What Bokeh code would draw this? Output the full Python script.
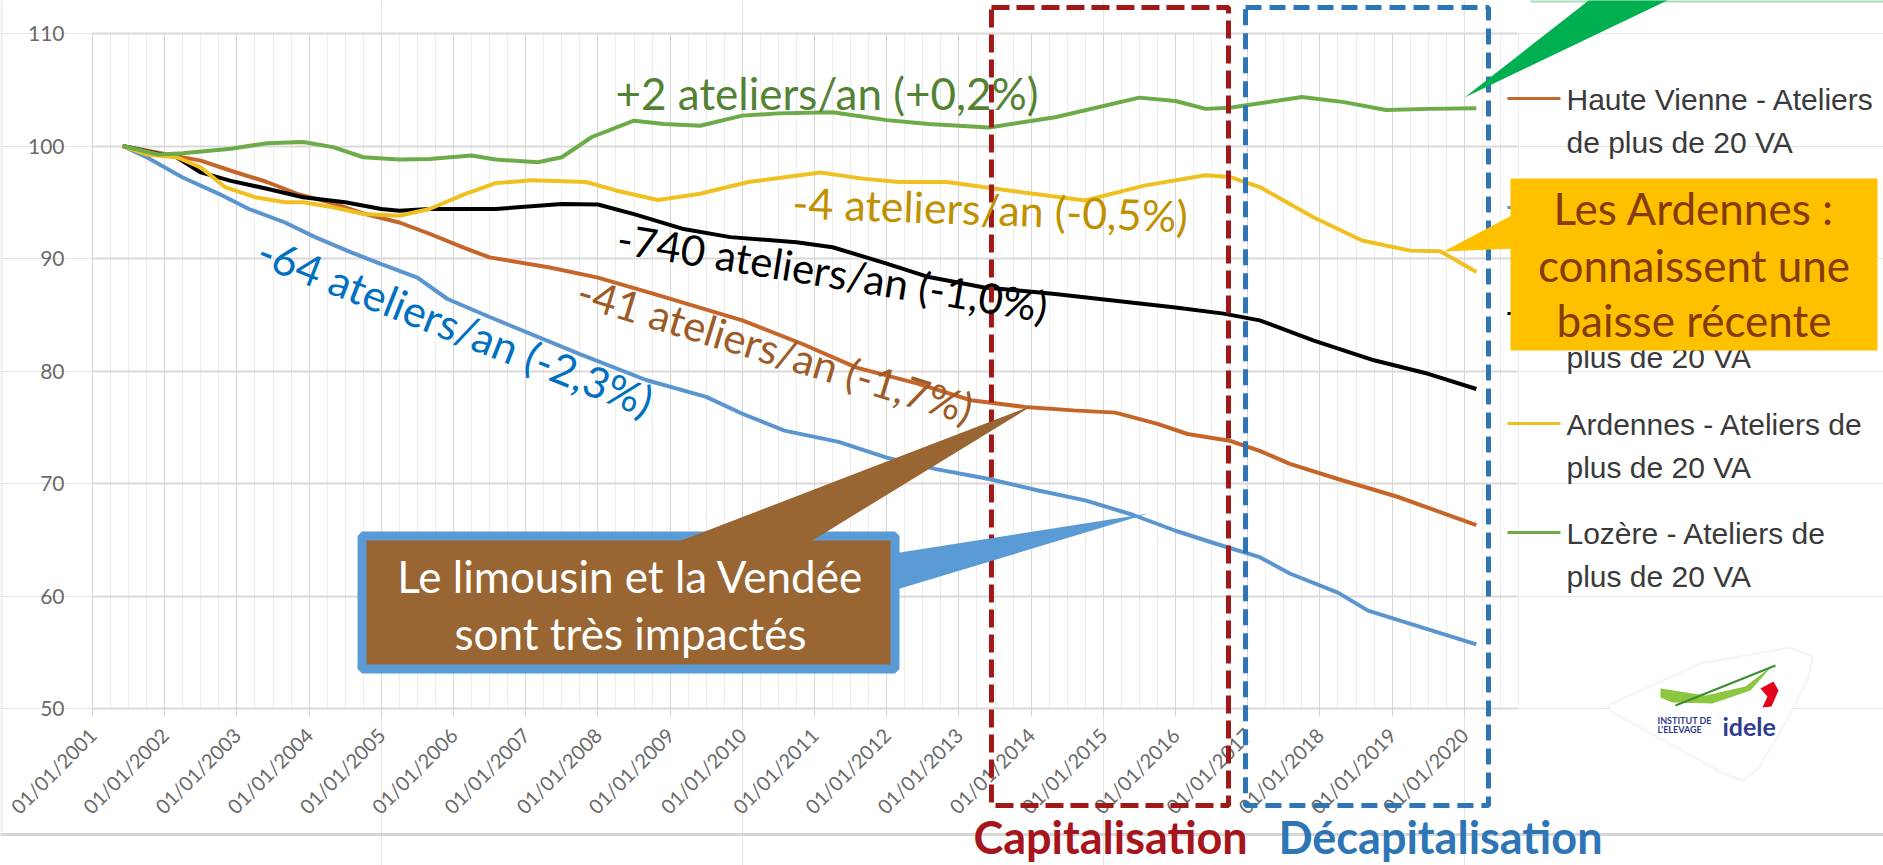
import math
from bokeh.plotting import figure
from bokeh.models import (Range1d, FixedTicker, Label, BoxAnnotation, PolyAnnotation, Arrow,
                          LinearAxis, Grid)
from bokeh.embed import file_html
from bokeh.resources import INLINE

# ---------------- data (index base 100, monthly dates YYYY-MM) ----------------
hv_dates = ["2001-06", "2002-01", "2002-07", "2002-12", "2003-06", "2003-11", "2004-05", "2004-10",
            "2005-04", "2005-09", "2006-03", "2006-07", "2007-05", "2008-01", "2008-10", "2010-01",
            "2010-11", "2011-08", "2012-06", "2013-03", "2013-12", "2014-08", "2015-03", "2015-10",
            "2016-03", "2016-10", "2017-03", "2017-08", "2018-04", "2019-02", "2020-03"]
hv_values = [100.0, 99.3, 98.7, 97.8, 96.8, 95.75, 94.9, 94.0,
             93.2, 92.2, 90.9, 90.1, 89.2, 88.3, 86.9, 84.5,
             82.4, 80.3, 78.9, 77.4, 76.8, 76.5, 76.3, 75.3,
             74.4, 73.8, 72.9, 71.75, 70.4, 68.8, 66.3]

vendee_dates = ["2001-06", "2001-10", "2002-04", "2002-10", "2003-03", "2003-09", "2004-02", "2004-08",
                "2005-01", "2005-07", "2005-12", "2006-07", "2007-10", "2008-09", "2009-07", "2010-01",
                "2010-08", "2011-05", "2012-01", "2012-09", "2013-06", "2014-02", "2014-10", "2015-06",
                "2016-01", "2016-08", "2017-03", "2017-08", "2018-04", "2018-09", "2020-03"]
vendee_values = [100.0, 99.0, 97.2, 95.75, 94.4, 93.2, 91.9, 90.55,
                 89.5, 88.3, 86.4, 84.8, 81.5, 79.2, 77.7, 76.2,
                 74.7, 73.7, 72.3, 71.3, 70.4, 69.4, 68.5, 67.2,
                 65.8, 64.6, 63.45, 62.0, 60.3, 58.7, 55.7]

france_dates = ["2001-06", "2001-12", "2002-03", "2002-07", "2002-12", "2003-06", "2003-12", "2004-07",
                "2005-01", "2005-04", "2005-09", "2006-08", "2007-07", "2008-01", "2008-07", "2009-03",
                "2009-11", "2010-10", "2011-04", "2012-01", "2012-08", "2013-05", "2014-05", "2015-03",
                "2016-01", "2016-09", "2017-03", "2017-12", "2018-10", "2019-07", "2020-03"]
france_values = [100.0, 99.3, 99.0, 97.65, 96.9, 96.2, 95.45, 95.0,
                 94.4, 94.25, 94.4, 94.4, 94.85, 94.8, 93.95, 92.65,
                 91.9, 91.45, 91.0, 89.55, 88.35, 87.45, 86.85, 86.25,
                 85.65, 85.1, 84.5, 82.7, 80.95, 79.75, 78.4]

ardennes_dates = ["2001-06", "2001-10", "2002-03", "2002-07", "2002-11", "2003-04", "2003-09", "2003-12",
                  "2004-05", "2004-10", "2005-04", "2005-09", "2006-03", "2006-08", "2007-02", "2007-11",
                  "2008-04", "2008-11", "2009-06", "2010-02", "2011-02", "2011-09", "2012-03", "2012-11",
                  "2013-05", "2014-10", "2015-08", "2016-06", "2016-10", "2017-03", "2017-12", "2018-08",
                  "2019-04", "2019-09", "2020-03"]
ardennes_values = [100.0, 99.25, 99.0, 98.1, 96.35, 95.45, 95.0, 95.0,
                   94.55, 93.95, 93.8, 94.4, 95.75, 96.7, 96.95, 96.8,
                   96.05, 95.2, 95.75, 96.8, 97.65, 97.1, 96.8, 96.8,
                   96.35, 95.15, 96.5, 97.4, 97.25, 96.35, 93.65, 91.6,
                   90.7, 90.65, 88.8]

lozere_dates = ["2001-06", "2001-12", "2002-04", "2002-12", "2003-06", "2003-12", "2004-05", "2004-10",
                "2005-04", "2005-09", "2006-04", "2006-08", "2007-03", "2007-07", "2007-12", "2008-07",
                "2008-12", "2009-06", "2010-01", "2010-07", "2011-04", "2012-01", "2012-08", "2013-06",
                "2014-05", "2015-07", "2016-01", "2016-06", "2016-10", "2017-10", "2018-05", "2018-12",
                "2019-07", "2020-03"]
lozere_values = [100.0, 99.25, 99.35, 99.75, 100.25, 100.35, 99.9, 99.0,
                 98.8, 98.85, 99.15, 98.8, 98.55, 99.0, 100.8, 102.25,
                 101.95, 101.8, 102.7, 102.9, 103.0, 102.3, 101.95, 101.65,
                 102.55, 104.3, 104.0, 103.3, 103.4, 104.35, 103.9, 103.2,
                 103.3, 103.35]

tick_years = list(range(2001, 2021))
y_ticks = [50, 60, 70, 80, 90, 100, 110]

series = [
    ("Haute Vienne", hv_dates, hv_values, "#C5652A"),
    ("Vendée", vendee_dates, vendee_values, "#5B95CF"),
    ("France", france_dates, france_values, "#000000"),
    ("Ardennes", ardennes_dates, ardennes_values, "#F0C020"),
    ("Lozère", lozere_dates, lozere_values, "#6DAA48"),
]


def frac(d):
    y, m = d.split("-")
    return int(y) + (int(m) - 1) / 12.0


# ---------------- layout ----------------
W, H = 1883, 865
X0, X1 = 2001.0, 2020.737      # plotting area (years)
Y0, Y1 = 50.0, 110.0           # plotting area (index)
PPX, PPY = 72.2, 11.25         # pixels per year / per index point
x_start = X0 - 92 / PPX
y_end = Y1 + 33 / PPY

FONT = "Lato"
ANN = 44

p = figure(width=W, height=H, output_backend="svg", toolbar_location=None,
           x_range=Range1d(x_start, x_start + W / PPX), y_range=Range1d(y_end - H / PPY, y_end),
           x_axis_location=None, y_axis_location=None, min_border=0)
p.outline_line_color = None
p.background_fill_color = "white"
p.border_fill_color = "white"

xticker = FixedTicker(ticks=tick_years, minor_ticks=[2001 + q / 4 for q in range(0, 80)])
yticker = FixedTicker(ticks=y_ticks)

xaxis = LinearAxis(fixed_location=Y0, bounds=(X0, X1), ticker=xticker)
xaxis.major_label_overrides = {yv: "01/01/%d" % yv for yv in tick_years}
xaxis.major_label_orientation = math.pi / 4
xaxis.major_label_text_font = FONT
xaxis.major_label_text_font_size = "20px"
xaxis.major_label_text_color = "#6a6a6a"
xaxis.axis_line_color = None
xaxis.major_tick_line_color = "#d4d4d4"
xaxis.major_tick_out = 8
xaxis.major_tick_in = 0
xaxis.minor_tick_line_color = None
xaxis.major_label_standoff = 15
p.add_layout(xaxis, "below")

yaxis = LinearAxis(fixed_location=X0, bounds=(Y0, Y1), ticker=yticker)
yaxis.axis_line_color = None
yaxis.major_tick_line_color = None
yaxis.minor_tick_line_color = None
yaxis.major_label_text_font = FONT
yaxis.major_label_text_font_size = "21px"
yaxis.major_label_text_color = "#6a6a6a"
yaxis.major_label_standoff = 22
p.add_layout(yaxis, "left")

xgrid = Grid(dimension=0, ticker=xticker, bounds=(X0, X1), cross_bounds=(Y0, Y1),
             grid_line_color="#d6d6d6", grid_line_width=1,
             minor_grid_line_color="#ededed", minor_grid_line_width=1)
ygrid = Grid(dimension=1, ticker=yticker, bounds=(Y0, Y1), cross_bounds=(X0, X1),
             grid_line_color="#dadada", grid_line_width=2)
p.add_layout(xgrid)
p.add_layout(ygrid)

for name, d, v, c in series:
    p.line([frac(s) for s in d], v, line_color=c, line_width=4)


# text helper: Label anchored on the alphabetic baseline (small renderer offset compensated)
def txt(x, y, text, size, color, angle=0.0, align="left", bold=False, font=FONT):
    off = 0.34 * size
    x += off * (-math.sin(angle)) / PPX
    y += off * math.cos(angle) / PPY
    p.add_layout(Label(x=x, y=y, text=text, angle=angle, text_align=align,
                       text_baseline="alphabetic", text_font=font,
                       text_font_style="bold" if bold else "normal",
                       text_font_size="%dpx" % size, text_color=color))


# slide frame lines
p.add_layout(BoxAnnotation(left=x_start - 1, right=x_start + W / PPX + 1, top=38.93, bottom=38.67,
                           fill_color="#d6d6d6", fill_alpha=1, line_color=None))
p.add_layout(BoxAnnotation(left=x_start, right=x_start + 2 / PPX, top=y_end, bottom=38.9,
                           fill_color="#ececec", fill_alpha=1, line_color=None))
p.add_layout(BoxAnnotation(left=2020.917, right=x_start + W / PPX + 1, top=y_end + 0.2, bottom=112.76,
                           fill_color="#A8DDB5", fill_alpha=1, line_color=None))

# dashed period boxes
p.add_layout(BoxAnnotation(left=2013.451, right=2016.734, top=112.31, bottom=41.38,
                           fill_alpha=0, line_color="#A01818", line_alpha=1, line_width=5,
                           line_dash="18 7"))
p.add_layout(BoxAnnotation(left=2016.970, right=2020.335, top=112.31, bottom=41.38,
                           fill_alpha=0, line_color="#2E75B6", line_alpha=1, line_width=5,
                           line_dash="16 8"))
txt(2015.1, 37.2, "Capitalisation", 45, "#A5151B", align="center", bold=True)
txt(2019.67, 37.2, "Décapitalisation", 45, "#2E75B6", align="center", bold=True)

# trend annotations
txt(2008.244, 103.42, "+2 ateliers/an (+0,2%)", ANN, "#548235")
txt(2010.69, 93.73, "-4 ateliers/an (-0,5%)", 43, "#BF9000", -0.035)
txt(2008.245, 90.62, "-740 ateliers/an (-1,0%)", 42, "#000000", -0.16)
txt(2007.68, 86.0, "-41 ateliers/an (-1,7%)", 42, "#9C5B27", -0.295)
txt(2003.245, 89.65, "-64 ateliers/an (-2,3%)", 43, "#0070C0", -0.375)

# legend (manual, partly hidden by the yellow callout as in the slide)
leg_x0, leg_x1, leg_tx = 2020.598, 2021.332, 2021.415
leg = [
    ("#C5652A", 104.22, ["Haute Vienne - Ateliers", "de plus de 20 VA"]),
    ("#5B95CF", 94.53, []),
    ("#000000", 85.11, [None, "plus de 20 VA"]),
    ("#F0C020", 75.33, ["Ardennes - Ateliers de", "plus de 20 VA"]),
    ("#6DAA48", 65.64, ["Lozère - Ateliers de", "plus de 20 VA"]),
]
for col, ly, lines in leg:
    p.add_layout(Arrow(end=None, x_start=leg_x0, y_start=ly, x_end=leg_x1, y_end=ly,
                       line_color=col, line_width=3))
    for i, t in enumerate(lines):
        if t is None:
            continue
        txt(leg_tx, ly - 0.98 - 3.82 * i, t, 30, "#3a3a3a", font="Liberation Sans")

# green callout pointer (its box lies above the visible area)
p.add_layout(PolyAnnotation(xs=[2020.003, 2021.776, 2022.898], ys=[104.31, 113.2, 113.2],
                            fill_color="#00B050", fill_alpha=1, line_color=None))

# yellow callout
p.add_layout(BoxAnnotation(left=2020.64, right=2025.723, top=97.11, bottom=81.82,
                           fill_color="#FFC000", fill_alpha=1, line_color=None))
p.add_layout(PolyAnnotation(xs=[2020.709, 2020.709, 2019.712], ys=[94.0, 90.89, 90.62],
                            fill_color="#FFC000", fill_alpha=1, line_color=None))
for t, yy in [("Les Ardennes :", 93.2), ("connaissent une", 88.13), ("baisse récente", 83.16)]:
    txt(2023.181, yy, t, ANN, "#843C0C", align="center")

# brown / blue callout
p.add_layout(BoxAnnotation(left=2004.733, right=2012.115, top=65.33, bottom=53.51,
                           fill_color="#996633", fill_alpha=1, line_color="#5B9BD5",
                           line_alpha=1, line_width=9))
p.add_layout(PolyAnnotation(xs=[2012.094, 2012.094, 2015.626], ys=[63.78, 60.49, 67.33],
                            fill_color="#5B9BD5", fill_alpha=1, line_color=None))
p.add_layout(PolyAnnotation(xs=[2009.047, 2010.903, 2014.019], ys=[64.67, 64.67, 76.93],
                            fill_color="#996633", fill_alpha=1, line_color=None))
for t, yy in [("Le limousin et la Vendée", 60.49), ("sont très impactés", 55.42)]:
    txt(2008.452, yy, t, ANN, "white", align="center")

# idele logo (simplified)
p.add_layout(PolyAnnotation(
    xs=[2021.983, 2023.271, 2024.518, 2024.823, 2024.767, 2024.449, 2024.075, 2023.853, 2023.618, 2022.717, 2022.053],
    ys=[50.27, 54.0, 55.42, 54.62, 52.67, 48.76, 44.67, 43.6, 44.13, 47.33, 49.64],
    fill_color="white", fill_alpha=1, line_color="#d9d9d9", line_width=2))
p.add_layout(PolyAnnotation(
    xs=[2022.717, 2023.341, 2023.895, 2024.269, 2023.964, 2023.438, 2022.884, 2022.717],
    ys=[51.78, 51.16, 51.96, 53.82, 51.6, 50.44, 50.53, 50.98],
    fill_color="#8DC63F", fill_alpha=1, line_color=None))
p.add_layout(Arrow(end=None, x_start=2022.925, y_start=50.27, x_end=2024.31, y_end=53.82,
                   line_color="#3C8D2F", line_width=2))
p.add_layout(PolyAnnotation(
    xs=[2024.102, 2024.282, 2024.352, 2024.255, 2024.13, 2024.199],
    ys=[51.78, 52.4, 51.6, 50.18, 50.09, 51.07],
    fill_color="#E2001A", fill_alpha=1, line_color=None))
txt(2023.576, 47.69, "idele", 25, "#2E3B8F", bold=True)
txt(2022.676, 48.67, "INSTITUT DE", 9, "#2E3B8F", bold=True)
txt(2022.676, 47.87, "L'ELEVAGE", 9, "#2E3B8F", bold=True)

open("out.html", "w").write(file_html(p, INLINE))
